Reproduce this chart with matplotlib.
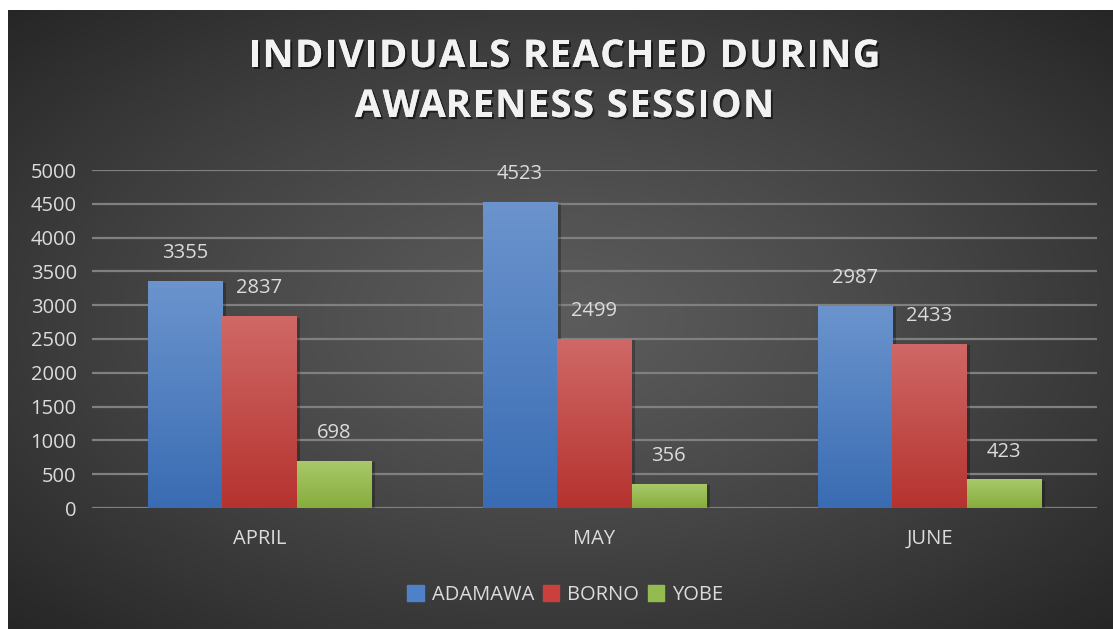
import numpy as np
import matplotlib
matplotlib.use("Agg")
import matplotlib.pyplot as plt
from matplotlib import patheffects as pe
from matplotlib.patches import Rectangle
from matplotlib.font_manager import FontProperties

# ---------------- data ----------------
months = ["APRIL", "MAY", "JUNE"]
series_names = ["ADAMAWA", "BORNO", "YOBE"]
adamawa = [3355, 4523, 2987]
borno = [2837, 2499, 2433]
yobe = [698, 356, 423]
yticks = [0, 500, 1000, 1500, 2000, 2500, 3000, 3500, 4000, 4500, 5000]
title_lines = ["INDIVIDUALS REACHED DURING", "AWARENESS SESSION"]

# ---------------- style ----------------
plt.rcParams['font.family'] = ['Open Sans', 'DejaVu Sans']
W, H, DPI = 1113, 629, 100
fig = plt.figure(figsize=(W / DPI, H / DPI), dpi=DPI, facecolor='white')

# chart area background (radial gradient)
cx0, cy0 = 8, 10  # top-left of chart area in pixels
bg = fig.add_axes([cx0 / W, 0, 1 - cx0 / W, 1 - cy0 / H])
bg.set_axis_off()
ny, nx = 300, 540
yy, xx = np.mgrid[-1:1:ny * 1j, -1:1:nx * 1j]
r = np.sqrt(xx ** 2 + yy ** 2) / np.sqrt(2)
r = np.clip(r, 0, 1) ** 1.2
inner = np.array([0x5c, 0x5c, 0x5c]) / 255
outer = np.array([0x26, 0x26, 0x26]) / 255
img = inner[None, None, :] * (1 - r[..., None]) + outer[None, None, :] * r[..., None]
bg.imshow(img, aspect='auto', extent=[0, 1, 0, 1], interpolation='bilinear')
bg.set_xlim(0, 1)
bg.set_ylim(0, 1)

# main axes
left, right = 92 / W, 1097 / W
bottom, top = 1 - 508 / H, 1 - 170 / H
ax = fig.add_axes([left, bottom, right - left, top - bottom])
ax.patch.set_alpha(0)
for s in ax.spines.values():
    s.set_visible(False)

x = np.arange(len(months))
bw = 0.222
values = [adamawa, borno, yobe]
grad_cols = [
    ("#6b94cd", "#3a6cb3"),
    ("#cf6866", "#b5332f"),
    ("#a9c96b", "#87ad3c"),
]
legend_cols = ["#4f81c8", "#c9403d", "#94bb4f"]
txt_col = "#dcdcdc"
fs = 14.5

ax.set_xlim(-0.5, len(months) - 0.5)
ax.set_ylim(0, 5000)
ax.set_yticks(yticks)
ax.yaxis.grid(True, color="#808080", linewidth=1.6)
ax.set_axisbelow(True)
ax.tick_params(axis='both', length=0, colors=txt_col, labelsize=fs)
ax.tick_params(axis='y', pad=11)
ax.tick_params(axis='x', pad=15)
ax.set_xticks(x)
ax.set_xticklabels(months)

for i, (vals, (ctop, cbot)) in enumerate(zip(values, grad_cols)):
    offs = (i - 1) * bw
    bars = ax.bar(x + offs, vals, width=bw, color=legend_cols[i], zorder=2,
                  label=series_names[i],
                  path_effects=[pe.withSimplePatchShadow(offset=(2.5, -1), shadow_rgbFace='black', alpha=0.25), pe.Normal()])
    for b, v in zip(bars, vals):
        x0 = b.get_x()
        w = b.get_width()
        h = b.get_height()
        t = np.linspace(0, 1, 64)[:, None]
        c1 = np.array(matplotlib.colors.to_rgb(ctop))
        c2 = np.array(matplotlib.colors.to_rgb(cbot))
        g = c1[None, None, :] * (1 - t[..., None]) + c2[None, None, :] * t[..., None]
        g = np.repeat(g, 2, axis=1)
        im = ax.imshow(g, extent=[x0, x0 + w, 0, h], aspect='auto', zorder=3,
                       interpolation='bilinear')
        im.set_clip_path(b)
        ax.annotate(f"{v}", (x0 + w / 2, h), xytext=(0, 20), textcoords='offset points',
                    ha='center', va='center', color=txt_col, fontsize=fs, zorder=4)

ax.set_xlim(-0.5, len(months) - 0.5)
ax.set_ylim(0, 5000)

# title with letter spacing
renderer = fig.canvas.get_renderer()
tfp = FontProperties(family=['Open Sans', 'DejaVu Sans'], weight='bold', size=27.5)
spacing = 1.4  # px extra between letters
cx_title = (cx0 + W) / 2 + 4
shadow = [pe.withSimplePatchShadow(offset=(1.5, -1.5), shadow_rgbFace='black', alpha=0.55), pe.Normal()]


def textw(s):
    if not s:
        return 0.0
    return renderer.get_text_width_height_descent(s, tfp, ismath=False)[0]


for k, line in enumerate(title_lines):
    total = textw(line) + spacing * (len(line) - 1)
    x_start = cx_title - total / 2
    ypix = H - (57 + 50 * k)
    for j, ch in enumerate(line):
        xp = x_start + textw(line[:j]) + spacing * j
        if ch == ' ':
            continue
        fig.text(xp / W, ypix / H, ch, ha='left', va='center', fontproperties=tfp,
                 color='#f2f2f2', path_effects=shadow)

# legend
handles = [Rectangle((0, 0), 1, 1, color=c) for c in legend_cols]
leg = fig.legend(handles, series_names, loc='center', bbox_to_anchor=(0.508, 1 - 595 / H),
                 ncol=3, frameon=False, fontsize=fs, labelcolor=txt_col,
                 handlelength=0.8, handleheight=0.8, handletextpad=0.4, columnspacing=0.45)

fig.savefig("out.png", dpi=DPI, facecolor='white')
